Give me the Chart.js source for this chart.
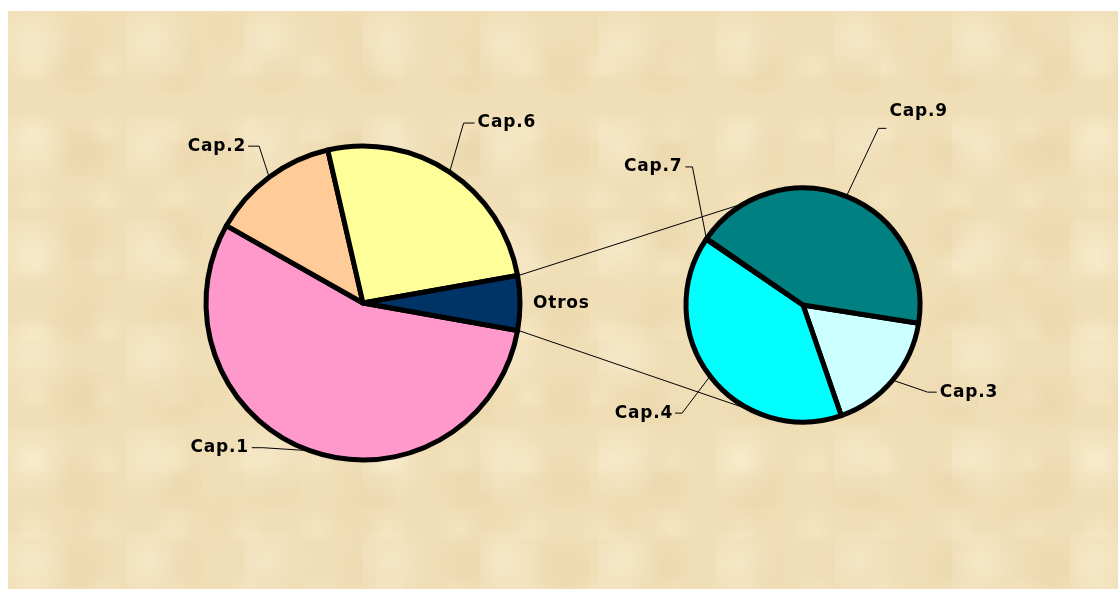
<!DOCTYPE html>
<html>
<head>
<meta charset="utf-8">
<script src="https://cdn.jsdelivr.net/npm/chart.js@4.4.1/dist/chart.umd.min.js"></script>
<style>
  html, body { margin: 0; padding: 0; background: #fff; }
  #wrap { position: relative; width: 1120px; height: 590px; overflow: hidden; }
  #paper {
    position: absolute; left: 8px; top: 11px; width: 1110px; height: 578px;
    background-color: #f0deb6;
    background-image:
      radial-gradient(circle at 20% 30%, rgba(255,248,228,.40) 0, rgba(255,248,228,0) 35%),
      radial-gradient(circle at 75% 70%, rgba(218,192,140,.18) 0, rgba(218,192,140,0) 40%),
      radial-gradient(circle at 60% 15%, rgba(232,210,165,.22) 0, rgba(232,210,165,0) 30%),
      radial-gradient(circle at 35% 85%, rgba(252,240,210,.35) 0, rgba(252,240,210,0) 30%);
    background-size: 118px 104px, 97px 83px, 133px 121px, 71px 66px;
  }
  canvas { position: absolute; left: 0; top: 0; }
</style>
</head>
<body>
<div id="wrap">
  <div id="paper"></div>
  <canvas id="mainPie" width="1120" height="590"></canvas>
  <canvas id="subPie" width="1120" height="590"></canvas>
</div>
<script>
// main pie: the last slice ("Otros") is broken out into the second pie
const mainLabels = ['Cap.1', 'Cap.2', 'Cap.6', 'Otros'];
const mainValues = [55.4, 13.2, 25.8, 5.6];
const mainColors = ['#ff99cc', '#ffcc99', '#ffff99', '#003366'];

const subLabels = ['Cap.3', 'Cap.4', 'Cap.7', 'Cap.9'];
const subValues = [17.2, 39.8, 0.1, 42.9];
const subColors = ['#ccffff', '#00ffff', '#00ffff', '#008080'];

const labelFont = 'bold 17px "Comic Sans MS", "DejaVu Sans", sans-serif';

// leader line layout: elbow offset from the slice edge, short horizontal run, text gap
const labelLayout = {
  'Cap.1': { dx: -47, dy: -3, seg: -11, tx: -3, ty: 0 },
  'Cap.2': { dx: -10, dy: -31, seg: -11, tx: -2, ty: 0 },
  'Cap.6': { dx: 14, dy: -49, seg: 11, tx: 3, ty: 0 },
  'Otros': { noLine: true, tx: 13, ty: 1 },
  'Cap.3': { dx: 35, dy: 12, seg: 9, tx: 3, ty: 0 },
  'Cap.4': { dx: -28, dy: 37, seg: -7, tx: -2, ty: 0 },
  'Cap.7': { dx: -14, dy: -72, seg: -7, tx: -3, ty: 0 },
  'Cap.9': { dx: 32, dy: -68, seg: 8, tx: 3, ty: -17 }
};

const sliceLabels = {
  id: 'sliceLabels',
  afterDatasetsDraw(chart) {
    const ctx = chart.ctx;
    const labels = chart.data.labels;
    ctx.save();
    ctx.font = labelFont;
    ctx.letterSpacing = '0.8px';
    ctx.fillStyle = '#000';
    ctx.strokeStyle = '#000';
    ctx.lineWidth = 1;
    ctx.textBaseline = 'middle';
    chart.getDatasetMeta(0).data.forEach((arc, i) => {
      const lay = labelLayout[labels[i]];
      if (!lay) return;
      const p = arc.getProps(['x', 'y', 'startAngle', 'endAngle', 'outerRadius'], true);
      const mid = (p.startAngle + p.endAngle) / 2;
      const ex = p.x + Math.cos(mid) * p.outerRadius;
      const ey = p.y + Math.sin(mid) * p.outerRadius;
      if (lay.noLine) {
        ctx.textAlign = 'left';
        ctx.fillText(labels[i], ex + lay.tx, ey + lay.ty);
        return;
      }
      const bx = ex + lay.dx, by = ey + lay.dy;
      const cx = bx + lay.seg;
      ctx.beginPath();
      ctx.moveTo(ex, ey);
      ctx.lineTo(bx, by);
      ctx.lineTo(cx, by);
      ctx.stroke();
      ctx.textAlign = lay.seg < 0 ? 'right' : 'left';
      ctx.fillText(labels[i], cx + lay.tx, by + lay.ty);
    });
    ctx.restore();
  }
};

// angle (deg from 12 o'clock) where the connector lines meet the second pie
const connectorAngles = [-29, 205];

const connectors = {
  id: 'connectors',
  beforeDatasetsDraw(chart) {
    const otros = mainChart.getDatasetMeta(0).data[mainLabels.indexOf('Otros')];
    const m = otros.getProps(['x', 'y', 'startAngle', 'endAngle', 'outerRadius'], true);
    const s = chart.getDatasetMeta(0).data[0].getProps(['x', 'y', 'outerRadius'], true);
    const ends = [m.startAngle, m.endAngle];
    const ctx = chart.ctx;
    ctx.save();
    ctx.strokeStyle = '#000';
    ctx.lineWidth = 1;
    ends.forEach((a, k) => {
      const b = (connectorAngles[k] - 90) * Math.PI / 180;
      ctx.beginPath();
      ctx.moveTo(m.x + Math.cos(a) * (m.outerRadius + 2), m.y + Math.sin(a) * (m.outerRadius + 2));
      ctx.lineTo(s.x + Math.cos(b) * s.outerRadius, s.y + Math.sin(b) * s.outerRadius);
      ctx.stroke();
    });
    ctx.restore();
  }
};

const otrosAngle = mainValues[3] / mainValues.reduce((a, b) => a + b, 0) * 360;

const mainChart = new Chart(document.getElementById('mainPie'), {
  type: 'pie',
  data: {
    labels: mainLabels,
    datasets: [{
      data: mainValues,
      backgroundColor: mainColors,
      borderColor: '#000',
      borderWidth: 5,
      borderJoinStyle: 'round'
    }]
  },
  options: {
    responsive: false,
    animation: false,
    rotation: 90 + otrosAngle / 2,
    radius: 157,
    layout: { padding: { left: 0, right: 394, top: 16, bottom: 0 } },
    plugins: { legend: { display: false }, tooltip: { enabled: false } }
  },
  plugins: [sliceLabels]
});

const subChart = new Chart(document.getElementById('subPie'), {
  type: 'pie',
  data: {
    labels: subLabels,
    datasets: [{
      data: subValues,
      backgroundColor: subColors,
      borderColor: '#000',
      borderWidth: 5,
      borderJoinStyle: 'round'
    }]
  },
  options: {
    responsive: false,
    animation: false,
    rotation: 99,
    radius: 117,
    layout: { padding: { left: 486, right: 0, top: 20, bottom: 0 } },
    plugins: { legend: { display: false }, tooltip: { enabled: false } }
  },
  plugins: [connectors, sliceLabels]
});
</script>
</body>
</html>
